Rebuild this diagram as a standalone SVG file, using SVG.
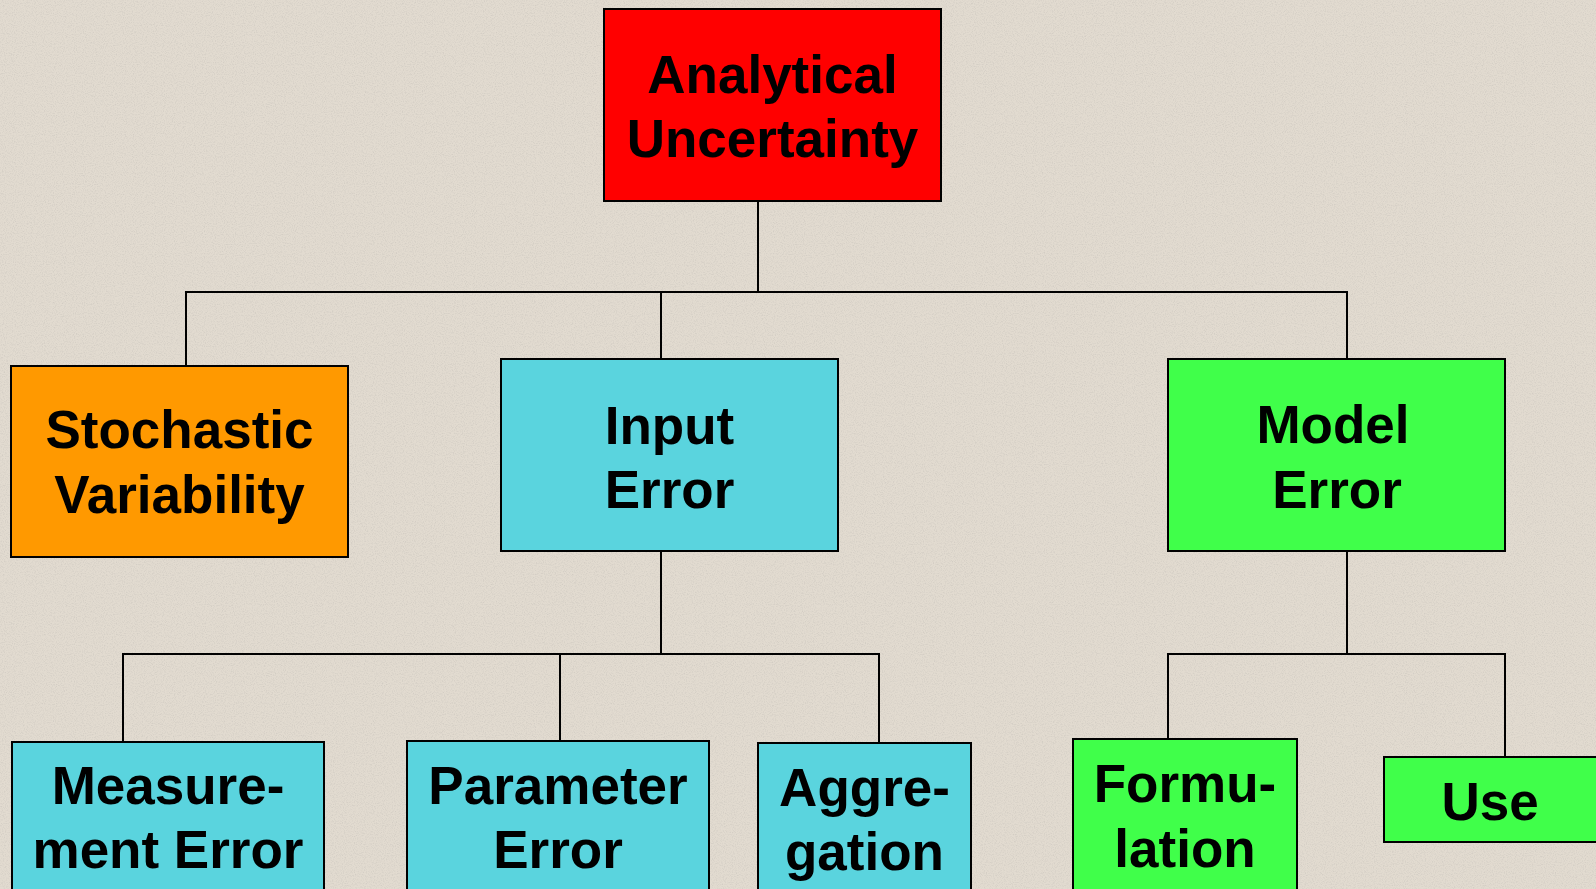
<svg xmlns="http://www.w3.org/2000/svg" width="1596" height="889" viewBox="0 0 1596 889">
<defs>
<filter id="grain" x="0" y="0" width="100%" height="100%">
<feTurbulence type="fractalNoise" baseFrequency="0.9" numOctaves="2" seed="3" result="n"/>
<feColorMatrix type="matrix" values="0 0 0 0 0.55  0 0 0 0 0.52  0 0 0 0 0.48  0 0 0 -2.2 1.25" in="n" result="c"/>
<feComposite in="c" in2="SourceGraphic" operator="in"/>
</filter>
</defs>
<style>
.node rect { stroke: #000; stroke-width: 2; }
.node text { font-family: "Liberation Sans", Arial, sans-serif; font-weight: bold; font-size: 53px; fill: #000; text-anchor: middle; }
.red { fill: #FF0000; }
.orange { fill: #FF9900; }
.cyan { fill: #5AD4DE; }
.green { fill: #40FF4A; }
#connectors path { fill: none; stroke: #000; stroke-width: 2; }
</style>
<rect width="1596" height="889" fill="#E2DBD0"/>
<rect width="1596" height="889" fill="#E2DBD0" filter="url(#grain)" opacity="0.5"/>
<g id="connectors">
<path d="M758 201 V292 M186 366 V292 H1347 V359 M661 292 V359"/>
<path d="M661 551 V654 M123 741 V654 H879 V743 M560 654 V741"/>
<path d="M1347 551 V654 M1168 739 V654 H1505 V757"/>
</g>
<g id="analytical-uncertainty" class="node">
<rect class="red" x="604" y="9" width="337" height="192"/>
<text x="772.5" y="93">Analytical</text>
<text x="772.5" y="157">Uncertainty</text>
</g>
<g id="stochastic-variability" class="node">
<rect class="orange" x="11" y="366" width="337" height="191"/>
<text x="179.5" y="448">Stochastic</text>
<text x="179.5" y="513">Variability</text>
</g>
<g id="input-error" class="node">
<rect class="cyan" x="501" y="359" width="337" height="192"/>
<text x="669.5" y="444">Input</text>
<text x="669.5" y="508">Error</text>
</g>
<g id="model-error" class="node">
<rect class="green" x="1168" y="359" width="337" height="192"/>
<text x="1333" y="443">Model</text>
<text x="1337" y="508">Error</text>
</g>
<g id="measurement-error" class="node">
<rect class="cyan" x="12" y="742" width="312" height="160"/>
<text x="168" y="804">Measure-</text>
<text x="168" y="868">ment Error</text>
</g>
<g id="parameter-error" class="node">
<rect class="cyan" x="407" y="741" width="302" height="160"/>
<text x="558" y="804">Parameter</text>
<text x="558" y="868">Error</text>
</g>
<g id="aggregation" class="node">
<rect class="cyan" x="758" y="743" width="213" height="160"/>
<text x="864.5" y="806">Aggre-</text>
<text x="864.5" y="870">gation</text>
</g>
<g id="formulation" class="node">
<rect class="green" x="1073" y="739" width="224" height="160"/>
<text x="1185" y="802">Formu-</text>
<text x="1185" y="867">lation</text>
</g>
<g id="use" class="node">
<rect class="green" x="1384" y="757" width="213" height="85"/>
<text x="1490" y="820">Use</text>
</g>
</svg>
